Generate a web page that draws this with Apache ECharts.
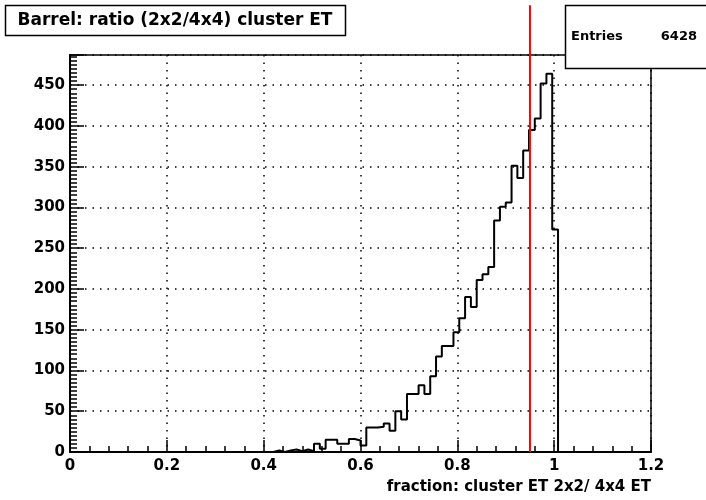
<!DOCTYPE html>
<html>
<head>
<meta charset="utf-8">
<script src="https://cdn.jsdelivr.net/npm/echarts@6/dist/echarts.min.js"></script>
<style>
html,body{margin:0;padding:0;background:#fff;}
#chart{width:706px;height:500px;}
</style>
</head>
<body>
<div id="chart"></div>
<script>
// ---- data ----
var binWidth = 0.012;            // 100 bins over 0 .. 1.2
var counts = [
  0,0,0,0,0,0,0,0,0,0,
  0,0,0,0,0,0,0,0,0,0,
  0,0,0,0,0,0,0,0,0,0,
  0,0,0,0,0,2,0,2,3,1,
  3,1,10,4,15,15,10,10,16,14,
  8,30,30,31,35,26,50,40,71,71,
  82,71,93,117,130,130,147,164,190,178,
  211,218,227,284,301,306,351,336,370,395,
  409,452,464,273,0,0,0,0,0,0,
  0,0,0,0,0,0,0,0,0,0
];
var cutValue = [0.95];
var cutRange = [0, 548];
var xTicks = [0, 0.2, 0.4, 0.6, 0.8, 1.0, 1.2];
var yTicks = [0, 50, 100, 150, 200, 250, 300, 350, 400, 450];
var titleText = "Barrel: ratio (2x2/4x4) cluster ET";
var xTitle = "fraction: cluster ET 2x2/ 4x4 ET";
var entriesLabel = "Entries";
var entriesValue = "6428";

// ---- build ----
var histPts = [];
for (var i = 0; i < counts.length; i++) histPts.push([+(i * binWidth).toFixed(4), counts[i]]);
histPts.push([+(counts.length * binWidth).toFixed(4), 0]);

var FONT = "DejaVu Sans";
var chart = echarts.init(document.getElementById('chart'), null, {renderer: 'canvas'});
var dotted = {color: '#000', width: 1.5, type: [1.5, 6]};

chart.setOption({
  animation: false,
  backgroundColor: '#fff',
  grid: {left: 70, right: 55, top: 55, bottom: 48, show: true, borderColor: '#000', borderWidth: 1.5, backgroundColor: 'transparent'},
  xAxis: {
    type: 'value', min: xTicks[0], max: xTicks[xTicks.length - 1], interval: 0.2,
    axisLine: {show: true, onZero: false, lineStyle: {color: '#000', width: 2}},
    axisTick: {show: true, inside: true, length: 12, lineStyle: {color: '#000', width: 1.5}},
    minorTick: {show: true, splitNumber: 5, length: 6, lineStyle: {color: '#000', width: 1.5}},
    splitLine: {show: true, lineStyle: dotted},
    axisLabel: {color: '#000', fontFamily: FONT, fontWeight: 'bold', fontSize: 15, margin: 7,
      formatter: function (v) { return String(+v.toFixed(2)); }},
    name: xTitle, nameLocation: 'end', nameGap: 0,
    nameTextStyle: {color: '#000', fontFamily: FONT, fontWeight: 'bold', fontSize: 15, align: 'right', verticalAlign: 'top', padding: [28, 0, 0, 0]}
  },
  yAxis: {
    type: 'value', min: 0, max: 487, interval: 50,
    axisLine: {show: true, onZero: false, lineStyle: {color: '#000', width: 2}},
    axisTick: {show: true, inside: true, length: 14, lineStyle: {color: '#000', width: 1.5}},
    minorTick: {show: true, splitNumber: 10, length: 7, lineStyle: {color: '#000', width: 1.5}},
    splitLine: {show: true, lineStyle: dotted},
    axisLabel: {color: '#000', fontFamily: FONT, fontWeight: 'bold', fontSize: 15, margin: 5, showMaxLabel: false,
      formatter: function (v) { return yTicks.indexOf(v) >= 0 ? String(v) : ''; }}
  },
  series: [
    {
      type: 'line', data: histPts, step: 'end', symbol: 'none', clip: true,
      lineStyle: {color: '#000', width: 2}, z: 3
    },
    {
      type: 'line', data: [[cutValue[0], cutRange[0]], [cutValue[0], cutRange[1]]], symbol: 'none', clip: false,
      lineStyle: {color: '#ff0000', width: 2}, z: 4
    }
  ],
  graphic: [
    {type: 'rect', shape: {x: 5.5, y: 5.5, width: 340, height: 30}, style: {fill: '#fff', stroke: '#000', lineWidth: 1.5}, z: 100},
    {type: 'text', x: 175, y: 21, style: {text: titleText, fill: '#000', font: 'bold 17px "DejaVu Sans"', textAlign: 'center', textVerticalAlign: 'middle'}, z: 101},
    {type: 'rect', shape: {x: 565.5, y: 5.5, width: 160, height: 63}, style: {fill: '#fff', stroke: '#000', lineWidth: 1.5}, z: 100},
    {type: 'text', x: 571, y: 37, style: {text: entriesLabel, fill: '#000', font: 'bold 13px "DejaVu Sans"', textAlign: 'left', textVerticalAlign: 'middle'}, z: 101},
    {type: 'text', x: 697, y: 37, style: {text: entriesValue, fill: '#000', font: 'bold 13px "DejaVu Sans"', textAlign: 'right', textVerticalAlign: 'middle'}, z: 101}
  ]
});
</script>
</body>
</html>
